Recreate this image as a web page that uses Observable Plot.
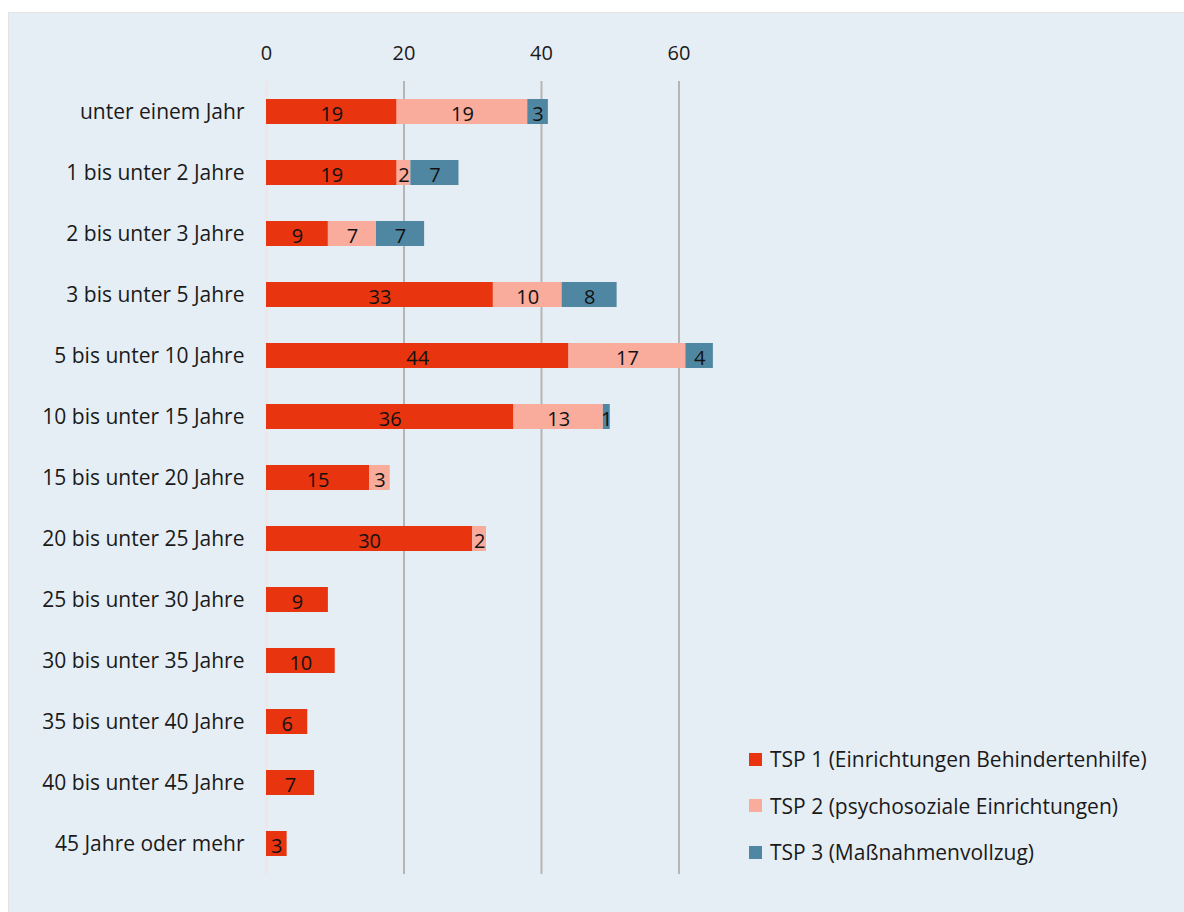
<!DOCTYPE html>
<html>
<head>
<meta charset="utf-8">
<script src="https://cdn.jsdelivr.net/npm/d3@7"></script>
<script src="https://cdn.jsdelivr.net/npm/@observablehq/plot@0.6"></script>
<style>
  html, body { margin: 0; padding: 0; background: #ffffff; }
  #panel {
    position: absolute; left: 8px; top: 12px; width: 1176px; height: 900px;
    background: #e6eef5; border-top: 1px solid #e6e2e2; border-left: 1px solid #e6e2e2;
    box-sizing: border-box; font-family: "Open Sans", sans-serif; color: #1a1a1a;
  }
  #chart { position: absolute; left: -1px; top: -1px; }
  #chart g[aria-label="x-axis tick label"] { font-size: 20px !important; }
  #chart g[aria-label="x-axis tick label"] text { font-size: 20px !important; }
  #legend { position: absolute; left: 740px; top: 723px; font-size: 21px; }
  .item { height: 46.5px; display: flex; align-items: center; white-space: nowrap; }
  .sw { width: 13px; height: 13px; margin-right: 8px; flex: none; }
</style>
</head>
<body>
<div id="panel"><div id="chart"></div><div id="legend"></div></div>
<script>
const categories = [
  "unter einem Jahr", "1 bis unter 2 Jahre", "2 bis unter 3 Jahre", "3 bis unter 5 Jahre",
  "5 bis unter 10 Jahre", "10 bis unter 15 Jahre", "15 bis unter 20 Jahre", "20 bis unter 25 Jahre",
  "25 bis unter 30 Jahre", "30 bis unter 35 Jahre", "35 bis unter 40 Jahre", "40 bis unter 45 Jahre",
  "45 Jahre oder mehr"
];
const seriesNames = [
  "TSP 1 (Einrichtungen Behindertenhilfe)",
  "TSP 2 (psychosoziale Einrichtungen)",
  "TSP 3 (Maßnahmenvollzug)"
];
const tsp1 = [19, 19, 9, 33, 44, 36, 15, 30, 9, 10, 6, 7, 3];
const tsp2 = [19, 2, 7, 10, 17, 13, 3, 2, 0, 0, 0, 0, 0];
const tsp3 = [3, 7, 7, 8, 4, 1, 0, 0, 0, 0, 0, 0, 0];
const colors = ["#e8340f", "#f9ab9c", "#4f87a3"];
const xTicks = [0, 20, 40, 60];

const seriesValues = [tsp1, tsp2, tsp3];
const data = [];
categories.forEach((c, i) => {
  seriesValues.forEach((vals, s) => {
    if (vals[i] > 0) data.push({cat: c, series: seriesNames[s], value: vals[i]});
  });
});

const W = 1176, H = 900;
const chart = Plot.plot({
  width: W, height: H,
  marginLeft: 258, marginRight: W - 258 - 481.25,
  marginTop: 69, marginBottom: H - 862,
  style: {background: "transparent", fontFamily: "Open Sans, sans-serif", fontSize: "21px", color: "#1a1a1a"},
  x: {domain: [0, 70], label: null},
  y: {domain: categories, paddingInner: 0.59, paddingOuter: 0.295, label: null},
  color: {domain: seriesNames, range: colors},
  marks: [
    Plot.axisX(xTicks, {anchor: "top", tickSize: 0, tickPadding: 22, fontSize: 20, label: null, fill: "#1a1a1a"}),
    Plot.axisY({anchor: "left", tickSize: 0, tickPadding: 22, fontSize: 21, label: null, fill: "#1a1a1a"}),
    Plot.ruleX(xTicks.filter(d => d > 0), {stroke: "#b5b5b5", strokeWidth: 2}),
    Plot.ruleX([0], {stroke: "#ece4e6", strokeWidth: 2}),
    Plot.barX(data, Plot.stackX({x: "value", y: "cat", fill: "series", z: "series"})),
    Plot.text(data, Plot.stackX({x: "value", y: "cat", z: "series", text: d => String(d.value),
      fill: "#111", fontSize: 20, dy: 3}))
  ]
});
document.getElementById("chart").appendChild(chart);

const legend = document.getElementById("legend");
seriesNames.forEach((n, i) => {
  const row = document.createElement("div");
  row.className = "item";
  const sw = document.createElement("span");
  sw.className = "sw"; sw.style.background = colors[i];
  const t = document.createElement("span");
  t.textContent = n;
  row.appendChild(sw); row.appendChild(t);
  legend.appendChild(row);
});
</script>
</body>
</html>
